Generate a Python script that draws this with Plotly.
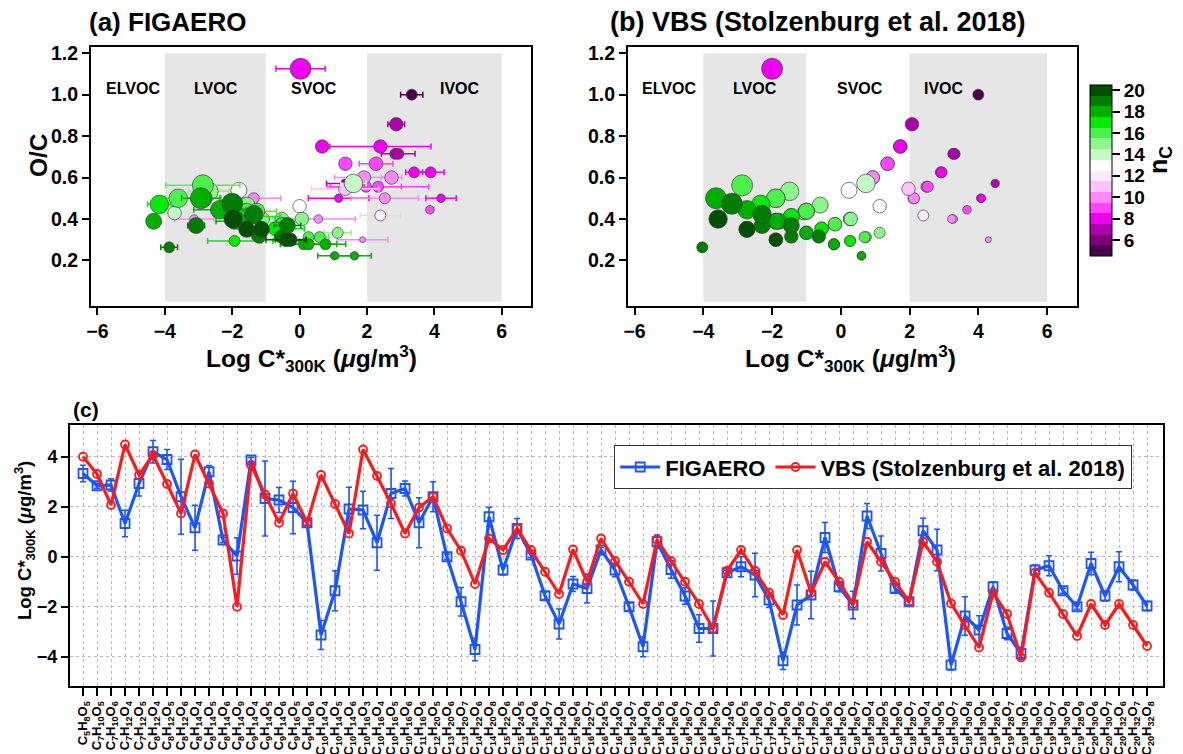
import re
import plotly.graph_objects as go

# ---------------- data ----------------
formulas = ["C5H8O5", "C7H10O5", "C7H10O6", "C7H12O4", "C7H12O5", "C8H12O4", "C8H12O5", "C8H12O6",
            "C8H14O4", "C8H14O5", "C8H14O6", "C8H14O9", "C9H14O4", "C9H14O5", "C9H14O6", "C9H16O5",
            "C9H16O6", "C10H14O4", "C10H14O5", "C10H14O6", "C10H16O3", "C10H16O4", "C10H16O5", "C10H16O6",
            "C11H16O6", "C12H20O5", "C13H20O6", "C13H20O7", "C14H22O6", "C14H20O8", "C15H22O6", "C15H24O5",
            "C15H24O6", "C15H24O7", "C15H24O8", "C15H26O6", "C16H22O7", "C16H24O5", "C16H24O6", "C16H24O7",
            "C16H24O8", "C16H26O5", "C16H26O6", "C16H26O7", "C16H26O8", "C16H26O9", "C17H24O6", "C17H26O5",
            "C17H26O6", "C17H26O7", "C17H26O8", "C17H28O5", "C17H28O7", "C18H26O5", "C18H26O6", "C18H26O7",
            "C18H28O4", "C18H28O5", "C18H28O6", "C18H28O7", "C18H30O4", "C18H30O5", "C18H30O7", "C18H30O8",
            "C18H30O9", "C19H28O6", "C19H28O7", "C19H30O5", "C19H30O6", "C19H30O7", "C19H30O8", "C19H28O9",
            "C20H30O6", "C20H30O7", "C20H32O6", "C20H32O7", "C20H32O8"]

figaero_logc = [3.33, 2.84, 2.87, 1.33, 2.93, 4.20, 3.89, 2.40, 1.16, 3.40, 0.67, 0.03, 3.87, 2.33, 2.27, 1.97,
                1.36, -3.13, -1.36, 1.91, 1.87, 0.56, 2.53, 2.73, 1.36, 2.40, 0.00, -1.80, -3.71, 1.60, -0.53, 1.13,
                0.07, -1.56, -2.69, -1.09, -1.27, 0.27, -0.53, -2.00, -3.60, 0.60, -0.51, -1.57, -2.87, -2.87, -0.64, -0.40,
                -0.73, -1.73, -4.16, -1.93, -1.53, 0.77, -1.20, -1.93, 1.63, 0.13, -1.27, -1.80, 1.04, 0.27, -4.33, -2.37,
                -2.93, -1.20, -3.07, -3.87, -0.53, -0.36, -1.36, -2.00, -0.27, -1.57, -0.40, -1.13, -1.97]

figaero_err = [0.33, 0.10, 0.25, 0.53, 0.50, 0.45, 0.40, 1.50, 0.90, 0.25, 0.10, 0.73, 0.10, 1.50, 0.50, 1.05,
               0.10, 0.58, 0.80, 0.87, 0.75, 1.10, 1.00, 0.30, 1.00, 0.60, 0.10, 0.57, 0.45, 0.38, 0.20, 0.40,
               0.10, 0.15, 0.60, 0.30, 0.58, 0.10, 0.27, 0.15, 0.40, 0.27, 0.35, 0.33, 0.55, 1.10, 0.10, 0.40,
               0.87, 0.30, 0.35, 0.80, 0.95, 0.60, 0.20, 0.55, 0.50, 0.70, 0.15, 0.13, 0.50, 0.83, 0.20, 0.77,
               0.57, 0.20, 0.25, 0.25, 0.20, 0.40, 0.10, 0.10, 0.45, 0.20, 0.60, 0.20, 0.18]

vbs_logc = [4.00, 3.31, 2.07, 4.49, 3.27, 4.07, 2.91, 1.73, 4.09, 2.93, 1.73, -2.00, 3.67, 2.49, 1.36, 2.53,
            1.36, 3.27, 2.11, 0.93, 4.29, 3.23, 2.13, 0.93, 1.97, 2.40, 1.13, 0.24, -1.09, 0.73, 0.27, 1.13,
            0.27, -0.60, -1.49, 0.29, -1.00, 0.73, -0.17, -1.00, -1.89, 0.69, -0.17, -1.00, -1.89, -2.87, -0.56, 0.27,
            -0.56, -1.44, -2.33, 0.27, -1.44, -0.20, -1.00, -1.89, 0.60, -0.20, -1.00, -1.80, 0.60, -0.20, -1.87, -2.73,
            -3.63, -1.44, -2.29, -4.03, -0.64, -1.44, -2.29, -3.17, -1.89, -2.73, -1.89, -2.73, -3.57]

region_names = ["ELVOC", "LVOC", "SVOC", "IVOC"]
region_x_a = [-4.95, -2.47, 0.42, 4.76]
region_x_b = [-5.0, -2.5, 0.56, 2.99]
shaded_ranges = [(-4, -1), (2, 6)]

nc_ticks = [6, 8, 10, 12, 14, 16, 18, 20]

# ---------------- derived from formulas ----------------
def parse(f):
    d = {el: int(n) for el, n in re.findall(r'([A-Z])(\d+)', f)}
    return d['C'], d['H'], d['O']

nC = [parse(f)[0] for f in formulas]
nO = [parse(f)[2] for f in formulas]
oc = [o / c for o, c in zip(nO, nC)]
sizes = [2.5 * o - 1.5 for o in nO]

palette = ["#4b004b", "#7d007d", "#ac00ac", "#ee00ee", "#ff45ff", "#ff88ff", "#ffc4ff", "#ffeaff",
           "#ffffff", "#c4fac4", "#8cf58c", "#4ef04e", "#00ec00", "#00b000", "#007d00", "#005000"]
cmin, cmax = 4.5, 20.5
colorscale = []
n = len(palette)
for i, c in enumerate(palette):
    colorscale.append([i / n, c])
    colorscale.append([(i + 1) / n, c])

def col_for(c):
    return palette[int(c) - 5]

def fmt(f):
    return re.sub(r'([A-Z])(\d+)', r'\1<sub>\2</sub>', f)

FONT = "Liberation Sans, Arial, Helvetica, sans-serif"
W, H = 1183, 754

def px(x):
    return x / W

def py(y):
    return 1 - y / H

fig = go.Figure()

# ---------------- panel (a) ----------------
order = sorted(set(nC))
for c in order:
    idx = [i for i in range(len(formulas)) if nC[i] == c]
    fig.add_trace(go.Scatter(
        x=[figaero_logc[i] for i in idx], y=[oc[i] for i in idx],
        error_x=dict(type='data', array=[figaero_err[i] for i in idx],
                     color=col_for(c) if c not in (12, 13) else "#dddddd",
                     thickness=1.5, width=3),
        mode='markers',
        marker=dict(size=[sizes[i] for i in idx], color=col_for(c), opacity=1,
                    line=dict(color='#404040', width=0.7)),
        xaxis='x', yaxis='y', showlegend=False, hoverinfo='skip'))

# ---------------- panel (b) ----------------
fig.add_trace(go.Scatter(
    x=vbs_logc, y=oc, mode='markers',
    marker=dict(size=sizes, color=nC, coloraxis='coloraxis', opacity=1,
                line=dict(color='#404040', width=0.7)),
    xaxis='x2', yaxis='y2', showlegend=False, hoverinfo='skip'))

# ---------------- panel (c) ----------------
cat_idx = list(range(len(formulas)))
fig.add_trace(go.Scatter(
    x=cat_idx, y=figaero_logc, name='FIGAERO', mode='lines+markers',
    line=dict(color='#1a55ff', width=3.2),
    marker=dict(symbol='square-open', size=9, color='#1a55ff', line=dict(width=1.8)),
    error_y=dict(type='data', array=figaero_err, color='#1a55ff', thickness=1.6, width=3),
    xaxis='x3', yaxis='y3'))
fig.add_trace(go.Scatter(
    x=cat_idx, y=vbs_logc, name='VBS (Stolzenburg et al. 2018)', mode='lines+markers',
    line=dict(color='#ff1a1a', width=3.2),
    marker=dict(symbol='circle-open', size=8, color='#ff1a1a', line=dict(width=1.8)),
    xaxis='x3', yaxis='y3'))

# ---------------- shapes ----------------
shapes = []
for xr, yr in (('x', 'y'), ('x2', 'y2')):
    for lo, hi in shaded_ranges:
        shapes.append(dict(type='rect', xref=xr, yref=yr, x0=lo, x1=hi, y0=0.0, y1=1.2,
                           fillcolor='#e6e6e6', line=dict(width=0), layer='below'))

# ---------------- annotations ----------------
ann = []
for name, xa, xb in zip(region_names, region_x_a, region_x_b):
    ann.append(dict(x=xa, y=1.03, xref='x', yref='y', text=name, showarrow=False,
                    font=dict(size=16, family=FONT, color='black', weight='bold')))
    ann.append(dict(x=xb, y=1.03, xref='x2', yref='y2', text=name, showarrow=False,
                    font=dict(size=16, family=FONT, color='black', weight='bold')))

ann.append(dict(x=px(87), y=py(22), xref='paper', yref='paper', xanchor='left', yanchor='middle',
                text='(a) FIGAERO', showarrow=False,
                font=dict(size=26, family=FONT, color='black', weight='bold')))
ann.append(dict(x=px(608), y=py(22), xref='paper', yref='paper', xanchor='left', yanchor='middle',
                text='(b) VBS (Stolzenburg et al. 2018)', showarrow=False,
                font=dict(size=27, family=FONT, color='black', weight='bold')))
ann.append(dict(x=px(71), y=py(410), xref='paper', yref='paper', xanchor='left', yanchor='middle',
                text='(c)', showarrow=False, font=dict(size=21, family=FONT, color='black', weight='bold')))

logc_title = 'Log C*<sub>300K</sub> (<i>μ</i>g/m<sup>3</sup>)'
axt_font = dict(size=24.5, family=FONT, color='black', weight='bold')
ann.append(dict(x=px(311), y=py(358), xref='paper', yref='paper', xanchor='center', yanchor='middle',
                text=logc_title, showarrow=False, font=axt_font))
ann.append(dict(x=px(851), y=py(358), xref='paper', yref='paper', xanchor='center', yanchor='middle',
                text=logc_title, showarrow=False, font=axt_font))
ann.append(dict(x=px(38), y=py(155), xref='paper', yref='paper', xanchor='center', yanchor='middle',
                text='O/C', textangle=-90, showarrow=False, font=axt_font))
ann.append(dict(x=px(24), y=py(541), xref='paper', yref='paper', xanchor='center', yanchor='middle',
                text=logc_title, textangle=-90, showarrow=False,
                font=dict(size=18.5, family=FONT, color='black', weight='bold')))
ann.append(dict(x=px(1160), y=py(160), xref='paper', yref='paper', xanchor='center', yanchor='middle',
                text='n<sub>C</sub>', textangle=-90, showarrow=False,
                font=dict(size=25, family=FONT, color='black', weight='bold')))

# ---------------- axes ----------------
tick_font = dict(size=19.5, family=FONT, color='black', weight='bold')
common = dict(showline=True, linecolor='black', linewidth=2, mirror=True, ticks='outside',
              ticklen=7, tickwidth=2, tickcolor='black', showgrid=False, zeroline=False, tickfont=tick_font)

xdom_a = [px(91), px(531)]
xdom_b = [px(628), px(1077)]
ydom_ab = [py(306), py(47)]
xdom_c = [px(70), px(1163)]
ydom_c = [py(686), py(425)]

fig.update_layout(
    width=W, height=H,
    margin=dict(l=0, r=0, t=0, b=0, autoexpand=False),
    paper_bgcolor='white', plot_bgcolor='white',
    font=dict(family=FONT, color='black'),
    xaxis=dict(domain=xdom_a, anchor='y', range=[-6.19, 6.87], tickvals=[-6, -4, -2, 0, 2, 4, 6], **common),
    yaxis=dict(domain=ydom_ab, anchor='x', range=[-0.02, 1.23], tickvals=[0.2, 0.4, 0.6, 0.8, 1.0, 1.2],
               tickformat='.1f', **common),
    xaxis2=dict(domain=xdom_b, anchor='y2', range=[-6.19, 6.87], tickvals=[-6, -4, -2, 0, 2, 4, 6], **common),
    yaxis2=dict(domain=ydom_ab, anchor='x2', range=[-0.02, 1.23], tickvals=[0.2, 0.4, 0.6, 0.8, 1.0, 1.2],
                tickformat='.1f', **common),
    xaxis3=dict(domain=xdom_c, anchor='y3', range=[-0.93, 77.14], tickvals=cat_idx,
                ticktext=[fmt(f) for f in formulas], tickangle=-90,
                showline=True, linecolor='black', linewidth=2, mirror=True, ticks='outside',
                ticklen=8, tickwidth=2, tickcolor='black', zeroline=False,
                showgrid=True, gridcolor='#b8b8b8', gridwidth=1, griddash='dot',
                tickfont=dict(size=13, family=FONT, color='black', weight='bold')),
    yaxis3=dict(domain=ydom_c, anchor='x3', range=[-5.17, 5.27], tickvals=[-4, -2, 0, 2, 4],
                showline=True, linecolor='black', linewidth=2, mirror=True, ticks='outside',
                ticklen=7, tickwidth=2, tickcolor='black', zeroline=False,
                showgrid=True, gridcolor='#b8b8b8', gridwidth=1, griddash='dot',
                tickfont=dict(size=18, family=FONT, color='black', weight='bold')),
    coloraxis=dict(colorscale=colorscale, cmin=cmin, cmax=cmax,
                   colorbar=dict(x=px(1090), xanchor='left', y=py(170.5), yanchor='middle',
                                 len=171 / H, lenmode='fraction', thickness=22, thicknessmode='pixels',
                                 outlinecolor='black', outlinewidth=1, tickvals=nc_ticks,
                                 ticks='outside', ticklen=8, tickwidth=1.5, tickcolor='black',
                                 tickfont=dict(size=19, family=FONT, color='black', weight='bold'),
                                 xpad=0, ypad=0)),
    legend=dict(x=px(614), y=py(445), xanchor='left', yanchor='top', orientation='h',
                bordercolor='#333333', borderwidth=1.2, bgcolor='white',
                font=dict(size=22, family=FONT, color='black', weight='bold'),
                itemwidth=40, tracegroupgap=0),
    shapes=shapes,
    annotations=ann,
)

fig.write_html("out.html", config={'displayModeBar': False},
               post_script="document.body.style.margin='0';document.body.style.overflow='hidden';")
